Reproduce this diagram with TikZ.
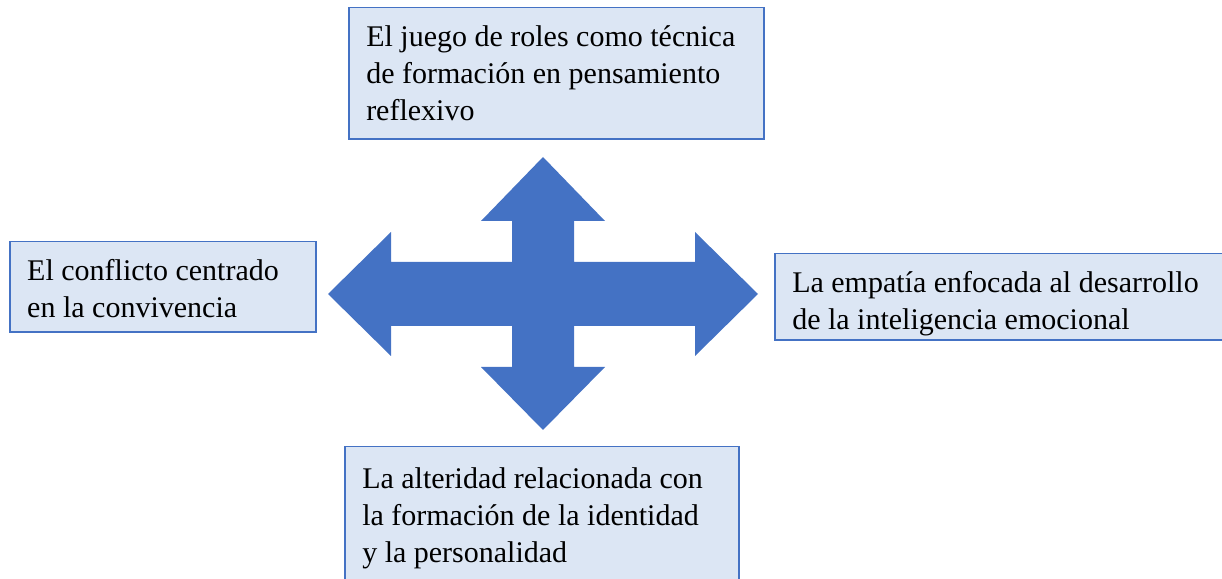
\documentclass[tikz,border=0pt]{standalone}
\usepackage{fontspec}
\setmainfont{Liberation Serif}
\usepackage{tikz}
\definecolor{azul}{HTML}{4472C4}
\definecolor{celeste}{HTML}{DCE6F4}
\tikzstyle{caja}=[rectangle,draw=azul,line width=0.6pt,fill=celeste,anchor=north west,align=flush left,inner xsep=7pt,inner ysep=7pt,text height=8.6pt,font=\fontsize{12}{14.8}\selectfont]
\tikzstyle{cruz}=[fill=azul]

\begin{document}
\begin{tikzpicture}[x=0.4pt,y=-0.4pt]

    \useasboundingbox (0,0) rectangle (1222,579);

    \def\dx{543};
    \def\dy{294};

    % flecha de cuatro puntas
    \coordinate (c) at (\dx,\dy);
    \fill[cruz, shift={(c)}] (0,-137) -- (62,-73) -- (31,-73) -- (31,-32) -- (152,-32) -- (152,-62)
        -- (215,0) -- (152,62) -- (152,32) -- (31,32) -- (31,73) -- (62,73)
        -- (0,136) -- (-62,73) -- (-31,73) -- (-31,32) -- (-152,32) -- (-152,62)
        -- (-215,0) -- (-152,-62) -- (-152,-32) -- (-31,-32) -- (-31,-73) -- (-62,-73) -- cycle;

    \node[caja, text width=152pt, text depth=29.8pt] (juego) at (348,7)
        {\mbox{El juego de roles como técnica}\\ de formación en pensamiento\\ reflexivo};

    \node[caja, text width=108.4pt, text depth=13.4pt] (conflicto) at (9,241)
        {El conflicto centrado\\ en la convivencia};

    \node[caja, text width=170pt, text depth=11.8pt] (empatia) at (774,253)
        {La empatía enfocada al desarrollo\\ de la inteligencia emocional};

    \node[caja, text width=143.6pt, text height=9.6pt, text depth=55pt] (alteridad) at (344,446)
        {La alteridad relacionada con\\ la formación de la identidad\\ y la personalidad};

\end{tikzpicture}
\end{document}
